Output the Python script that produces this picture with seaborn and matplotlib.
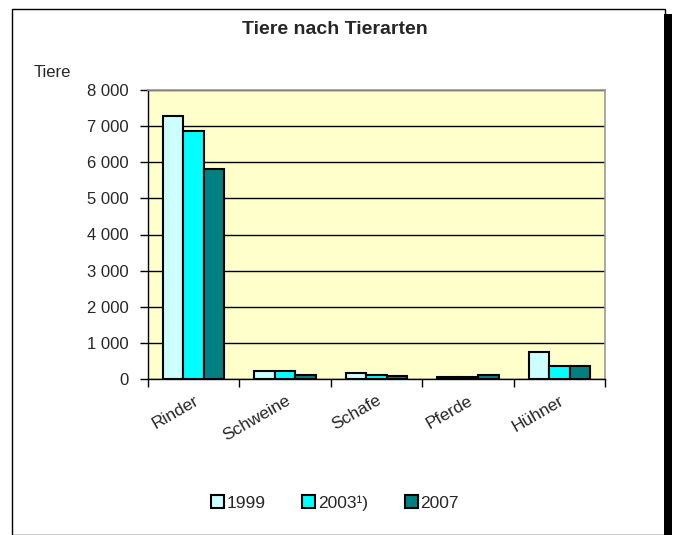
import matplotlib
matplotlib.use("Agg")
import matplotlib.pyplot as plt
import seaborn as sns
import pandas as pd
from matplotlib.patches import Rectangle
from matplotlib.ticker import FuncFormatter, FixedLocator

categories = ["Rinder", "Schweine", "Schafe", "Pferde", "Hühner"]
years = ["1999", "2003¹)", "2007"]
v1999 = [7280, 210, 165, 55, 750]
v2003 = [6860, 210, 120, 55, 360]
v2007 = [5810, 120, 70, 120, 360]
colors = ["#CCFFFF", "#00FFFF", "#008080"]

rows = []
for y, vals in zip(years, [v1999, v2003, v2007]):
    for c, v in zip(categories, vals):
        rows.append({"Tierart": c, "Jahr": y, "Tiere": v})
df = pd.DataFrame(rows)

sns.set_theme(style="white")
fam = ["Liberation Sans Narrow", "Liberation Sans", "DejaVu Sans"]
plt.rcParams["font.family"] = fam

fig = plt.figure(figsize=(6.73, 5.35), dpi=100)
fig.patch.set_facecolor("white")
# outer frame and shadow
fig.add_artist(Rectangle((12/673, 0), (665-12)/673, (535-9)/535, transform=fig.transFigure,
                         fill=False, edgecolor="black", linewidth=1.0))
fig.add_artist(Rectangle((664/673, 0), 8/673, (535-14)/535, transform=fig.transFigure,
                         facecolor="black", edgecolor="none"))

ax = fig.add_axes([148/673, 1-379/535, (605-148)/673, (379-90)/535])
ax.set_facecolor("#FFFFCC")
sns.barplot(data=df, x="Tierart", y="Tiere", hue="Jahr", palette=colors,
            width=0.67, gap=0, edgecolor="black", linewidth=1.5, ax=ax,
            legend=True, saturation=1)
ax.set_ylim(0, 8000)
ax.set_xlim(-0.5, len(categories)-0.5)
ax.set_yticks(range(0, 8001, 1000))
ax.yaxis.set_major_formatter(FuncFormatter(lambda v, p: f"{int(v):,}".replace(",", " ")))
ax.grid(axis="y", color="black", linewidth=1.0)
ax.set_axisbelow(True)
for s in ["left", "bottom"]:
    ax.spines[s].set_color("black")
    ax.spines[s].set_linewidth(1.0)
for s in ["top", "right"]:
    ax.spines[s].set_color("#999999")
    ax.spines[s].set_linewidth(1.2)
ax.tick_params(axis="y", which="major", left=True, length=6, width=1, color="black",
               labelsize=12, pad=8)
ax.tick_params(axis="x", which="major", length=0, labelsize=12.5, pad=10)
ax.xaxis.set_minor_locator(FixedLocator([i - 0.5 for i in range(len(categories)+1)]))
ax.tick_params(axis="x", which="minor", bottom=True, length=6, width=1, color="black")
for lab in ax.get_xticklabels():
    lab.set_rotation(30)
    lab.set_ha("right")
    lab.set_rotation_mode("anchor")
ax.set_xlabel("")
ax.set_ylabel("")
fig.text(52/673, 1-72/535, "Tiere", fontsize=12, ha="center", va="center")
fig.text(335/673, 1-30/535, "Tiere nach Tierarten", fontsize=14, fontweight="bold",
         ha="center", va="center")

h, l = ax.get_legend_handles_labels()
ax.get_legend().remove()
leg = fig.legend(h, l, loc="center", bbox_to_anchor=(335/673, 1-503/535), ncol=3,
                 frameon=False, fontsize=12.5, handlelength=0.75, handleheight=0.75,
                 handletextpad=0.15, columnspacing=2.1)
fig.savefig("out.png", dpi=100)
